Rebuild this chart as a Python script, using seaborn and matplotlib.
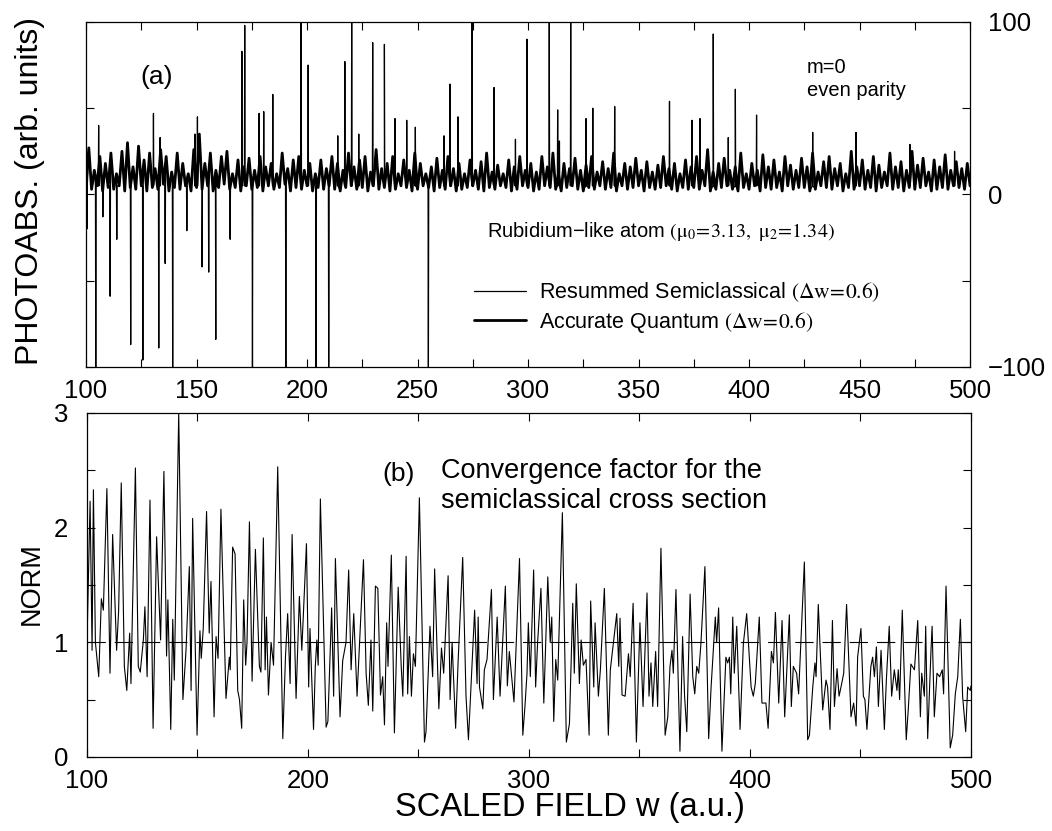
import numpy as np
import pandas as pd
import seaborn as sns
import matplotlib.pyplot as plt
from matplotlib.lines import Line2D
from matplotlib.ticker import MultipleLocator

# ---------------- panel (a): photoabsorption ----------------
# background band of the spectrum, read every 1.25 a.u. (troughs / bumps)
band_lo = [6, 3, 5, 2, 4, 3, 5, 2, 4, 3,
           5, 2, 4, 3, 6, 2, 4, 3, 5, 2,
           4, 3, 5, 2, 4, 6, 3, 4, 2, 5,
           3, 4, 2, 5, 3, 4, 6, 2, 4, 3,
           5, 2, 4, 3, 5, 3, 2, 4, 5, 3,
           4, 2, 5, 3, 4, 2, 3, 5, 4, 2,
           3, 5, 4, 2, 4, 3, 5, 2, 3, 4,
           5, 3, 2, 4, 3, 5, 4, 2, 3, 5,
           4, 2, 3, 5, 4, 3, 2, 4, 5, 3,
           2, 4, 3, 5, 3, 4, 2, 5, 3, 4,
           5, 2, 4, 3, 4, 5, 3, 2, 4, 3,
           4, 3, 5, 2, 3, 4, 5, 3, 2, 4,
           3, 5, 2, 4, 3, 4, 2, 5, 3, 4,
           4, 2, 3, 5, 4, 3, 5, 2, 4, 3,
           5, 3, 4, 2, 4, 5, 3, 4, 2, 4,
           3, 4, 5, 2, 3, 4, 3, 5, 4, 3,
           5]
band_hi = [27, 14, 22, 18, 24, 12, 25, 30, 16, 28,
           20, 24, 15, 26, 22, 13, 24, 18, 12, 26,
           35, 18, 24, 14, 22, 25, 12, 20, 16, 21,
           14, 22, 16, 18, 12, 24, 15, 20, 22, 14,
           18, 12, 20, 15, 22, 18, 14, 24, 16, 20,
           22, 13, 26, 15, 18, 22, 12, 20, 14, 24,
           18, 12, 16, 21, 14, 22, 15, 18, 12, 20,
           14, 19, 24, 13, 17, 12, 20, 16, 22, 14,
           18, 13, 22, 16, 24, 12, 18, 15, 21, 14,
           17, 22, 13, 19, 15, 24, 12, 18, 16, 21,
           14, 19, 13, 17, 22, 15, 18, 12, 20, 16,
           22, 14, 26, 13, 18, 21, 14, 16, 24, 12,
           18, 14, 23, 16, 20, 13, 22, 17, 14, 21,
           16, 24, 13, 19, 22, 15, 18, 12, 25, 16,
           20, 14, 22, 17, 13, 24, 16, 19, 14, 25,
           17, 21, 13, 20, 16, 23, 14, 19, 15, 18]

# sharp lines reaching up
up_w = [105.7, 130.5, 133.5, 149.3, 150.4, 170.5, 171.8, 178.3, 180.4, 184.5,
        197.3, 200.5, 213.9, 217.1, 220.2, 223.4, 229.7, 235.0, 239.8, 245.1,
        249.0, 262.0, 264.7, 268.3, 274.7, 284.6, 294.3, 299.5, 309.6, 313.4,
        314.2, 319.3, 326.2, 329.3, 339.2, 364.0, 374.2, 377.8, 383.8, 390.6,
        393.8, 403.4, 428.8, 448.4, 472.8, 493.0]
up_h = [40, 47, 33, 35, 45, 83, 98, 47, 48, 58,
        100, 75, 34, 77, 100, 35, 88, 87, 44, 43,
        39, 34, 64, 45, 100, 62, 32, 90, 100, 49,
        31, 100, 44, 50, 51, 54, 43, 44, 93, 33,
        61, 46, 36, 36, 29, 25]

# semiclassical lines going negative
down_w = [100.4, 104.4, 107.6, 110.9, 113.9, 120.2, 125.7, 132.9, 135.8, 139.2,
          145.6, 152.5, 155.5, 158.7, 165.2, 175.3, 190.4, 204.1, 209.8, 254.9]
down_h = [-20, -100, -13, -59, -26, -87, -96, -89, -40, -100,
          -21, -42, -45, -84, -26, -100, -100, -100, -100, -100]

# ---------------- panel (b): NORM ----------------
norm_w = [100.0, 101.4, 102.3, 102.9, 103.8, 105.3, 106.5, 107.4, 109.0, 110.4,
          111.6, 113.4, 114.3, 115.5, 116.9, 118.0, 119.3, 119.9, 121.9, 123.2,
          124.1, 125.5, 126.2, 127.2, 128.5, 129.9, 131.5, 132.0, 133.3, 134.8,
          136.0, 136.6, 137.9, 138.8, 139.5, 141.5, 143.4, 144.8, 146.3, 147.1,
          147.8, 149.8, 151.1, 151.7, 152.6, 154.1, 155.3, 156.1, 157.5, 158.4,
          159.3, 160.6, 162.9, 164.4, 164.8, 165.9, 167.0, 168.2, 169.0, 170.0,
          170.9, 171.8, 172.4, 173.5, 174.7, 176.2, 178.0, 178.7, 179.8, 180.6,
          181.2, 182.1, 183.3, 184.4, 186.3, 188.6, 189.8, 190.8, 191.9, 192.8,
          194.6, 196.1, 197.2, 199.3, 200.3, 200.9, 202.5, 203.3, 204.0, 204.6,
          205.6, 208.2, 209.0, 210.7, 211.6, 212.4, 213.8, 214.5, 215.7, 217.2,
          218.4, 219.5, 220.7, 222.2, 225.1, 226.3, 227.3, 228.5, 229.3, 230.5,
          231.6, 232.8, 233.8, 234.6, 235.6, 236.2, 237.7, 239.1, 240.8, 242.2,
          242.9, 244.4, 245.1, 245.9, 246.8, 247.7, 248.6, 250.4, 252.7, 253.4,
          255.2, 256.4, 257.3, 259.2, 260.4, 261.4, 263.4, 264.3, 265.2, 266.8,
          267.9, 270.0, 271.5, 272.6, 274.1, 275.4, 276.5, 277.0, 277.6, 279.1,
          279.8, 281.0, 283.0, 283.9, 285.6, 286.9, 289.3, 290.2, 291.1, 293.2,
          295.7, 297.2, 298.2, 299.1, 299.7, 300.6, 302.1, 303.0, 303.9, 305.4,
          306.7, 308.5, 309.6, 310.3, 311.2, 312.1, 313.0, 315.1, 316.9, 318.3,
          319.8, 320.5, 321.4, 322.8, 323.6, 324.6, 325.8, 327.2, 327.9, 329.3,
          329.9, 331.4, 332.3, 334.1, 335.9, 336.8, 339.7, 340.6, 341.2, 342.1,
          343.5, 345.0, 345.8, 347.1, 348.6, 350.2, 351.6, 353.4, 354.3, 355.2,
          356.0, 357.3, 358.2, 359.7, 361.6, 362.8, 363.8, 364.7, 365.3, 366.5,
          368.3, 369.5, 370.4, 371.4, 372.9, 374.1, 375.0, 375.9, 376.8, 377.8,
          379.6, 381.3, 382.4, 384.3, 384.9, 385.8, 387.3, 389.1, 389.9, 390.7,
          391.3, 392.2, 392.9, 394.0, 395.5, 397.0, 398.5, 400.5, 401.5, 402.4,
          404.2, 405.4, 407.2, 408.2, 409.7, 410.6, 411.5, 413.0, 414.5, 415.7,
          417.8, 418.7, 419.6, 421.1, 422.0, 424.6, 426.1, 426.9, 428.4, 429.4,
          429.9, 430.9, 432.9, 434.4, 435.1, 436.2, 437.3, 438.2, 439.4, 440.3,
          441.5, 442.4, 443.7, 445.7, 446.9, 448.0, 448.7, 450.2, 451.3, 452.0,
          452.9, 454.7, 455.5, 456.3, 457.2, 458.1, 459.3, 460.8, 461.7, 463.0,
          464.1, 465.3, 466.5, 467.1, 467.7, 468.9, 470.7, 471.6, 472.8, 474.4,
          475.9, 477.1, 477.7, 478.9, 479.5, 480.4, 481.9, 482.4, 483.4, 484.6,
          485.8, 487.0, 487.6, 488.7, 490.6, 491.7, 492.9, 494.0, 495.2, 496.2,
          497.6, 498.5, 499.7, 500.0]
norm_v = [1.00, 2.23, 0.93, 2.33, 1.00, 0.70, 1.38, 1.28, 2.34, 0.73,
          1.94, 0.93, 1.27, 2.39, 0.79, 0.58, 1.08, 0.64, 2.52, 0.79,
          0.74, 1.02, 1.31, 0.70, 2.24, 0.25, 1.92, 1.66, 1.02, 2.49,
          0.88, 1.37, 0.24, 1.20, 0.67, 3.00, 0.50, 0.93, 1.66, 0.58,
          2.08, 0.19, 1.10, 0.86, 1.12, 2.14, 1.08, 1.53, 0.35, 1.05,
          0.86, 2.16, 0.51, 0.87, 0.76, 1.83, 1.77, 0.58, 0.50, 0.25,
          1.37, 0.80, 1.00, 2.05, 0.66, 1.81, 0.79, 0.74, 1.91, 0.76,
          1.22, 0.54, 1.00, 0.80, 2.53, 0.16, 0.87, 1.25, 0.64, 1.94,
          0.51, 1.40, 0.93, 1.86, 0.61, 1.12, 0.24, 0.79, 1.02, 0.80,
          2.25, 0.26, 0.31, 1.30, 0.53, 1.73, 0.82, 0.35, 0.84, 1.00,
          1.63, 0.76, 1.25, 0.53, 1.72, 0.73, 0.45, 1.02, 0.40, 1.49,
          1.47, 0.54, 0.70, 0.28, 1.17, 0.79, 1.76, 0.21, 1.48, 0.78,
          0.53, 1.75, 0.55, 1.05, 0.53, 0.90, 0.79, 2.26, 0.13, 0.22,
          1.14, 0.70, 1.64, 0.42, 0.95, 0.73, 1.58, 0.50, 1.00, 0.25,
          0.82, 1.74, 0.53, 0.15, 0.76, 1.28, 0.64, 1.22, 0.61, 0.42,
          0.76, 0.85, 1.46, 0.50, 1.22, 0.53, 1.49, 0.62, 0.92, 0.48,
          1.73, 0.19, 0.45, 0.73, 1.17, 0.70, 1.63, 0.61, 1.00, 1.47,
          0.47, 1.57, 1.00, 1.22, 0.31, 0.85, 0.67, 2.13, 0.13, 0.29,
          1.34, 0.73, 1.51, 0.64, 1.02, 0.80, 0.85, 0.19, 1.36, 0.61,
          1.17, 0.53, 0.76, 1.47, 0.19, 0.76, 1.25, 0.79, 1.21, 0.54,
          0.53, 0.90, 0.70, 1.34, 0.13, 1.17, 0.44, 1.43, 0.53, 0.82,
          0.44, 0.92, 0.44, 1.82, 0.19, 0.35, 0.79, 0.93, 0.73, 1.46,
          0.05, 1.05, 0.53, 0.22, 1.42, 0.70, 0.55, 0.79, 0.73, 0.99,
          1.66, 0.16, 0.61, 1.22, 1.00, 1.30, 0.05, 0.87, 0.82, 0.87,
          0.55, 1.22, 0.73, 1.14, 0.24, 0.99, 1.25, 0.61, 0.53, 0.64,
          1.22, 0.47, 0.47, 0.25, 0.92, 0.82, 1.26, 0.47, 1.19, 0.35,
          1.24, 0.44, 0.79, 0.73, 0.55, 1.70, 0.15, 0.19, 0.61, 0.82,
          0.70, 1.33, 0.41, 0.67, 0.61, 0.24, 1.19, 0.44, 0.77, 0.53,
          0.64, 0.73, 1.33, 0.35, 0.47, 0.27, 0.87, 1.12, 0.53, 0.50,
          0.24, 0.79, 0.87, 0.70, 0.96, 0.44, 0.93, 0.24, 0.67, 1.14,
          0.53, 0.76, 0.58, 0.76, 0.50, 1.28, 0.15, 0.41, 0.81, 0.76,
          1.19, 0.35, 0.73, 0.53, 1.14, 0.16, 0.93, 1.14, 0.35, 0.73,
          0.70, 0.76, 0.55, 1.49, 0.08, 0.19, 0.55, 0.70, 1.20, 0.53,
          0.22, 0.61, 0.58, 0.62]
norm_ref = 1.0

# ---------------- build the curves ----------------
band_w = np.linspace(100, 500, len(band_lo) + len(band_hi))
band_y = np.empty(len(band_w))
band_y[0::2] = band_lo
band_y[1::2] = band_hi
quantum = pd.DataFrame({'w': band_w, 'y': band_y})


def add_lines(w, y, lw_, lh_, base=5.0, half=0.15):
    lw_ = np.asarray(lw_, float)
    lh_ = np.asarray(lh_, float)
    ew = np.concatenate([lw_ - half, lw_, lw_ + half])
    ey = np.concatenate([np.full(len(lw_), base), lh_, np.full(len(lw_), base)])
    aw = np.concatenate([w, ew])
    ay = np.concatenate([y, ey])
    order = np.argsort(aw, kind='stable')
    return pd.DataFrame({'w': aw[order], 'y': ay[order]})


semi = add_lines(band_w, band_y, up_w + down_w, up_h + down_h)
norm = pd.DataFrame({'w': norm_w, 'v': norm_v})

# ---------------- style ----------------
sns.set_style('ticks', {'axes.edgecolor': 'black', 'xtick.color': 'black',
                        'ytick.color': 'black', 'text.color': 'black',
                        'axes.labelcolor': 'black'})
plt.rcParams['font.family'] = ['Liberation Sans', 'DejaVu Sans']
plt.rcParams['mathtext.fontset'] = 'stix'
plt.rcParams['axes.linewidth'] = 0.9

fig = plt.figure(figsize=(10.52, 8.31), dpi=100)
ax1 = fig.add_axes([0.0818, 0.5584, 0.8403, 0.4152])
ax2 = fig.add_axes([0.0827, 0.0891, 0.8403, 0.4140])

# panel (a)
sns.lineplot(data=semi, x='w', y='y', ax=ax1, color='black', linewidth=0.9,
             estimator=None, sort=False)
sns.lineplot(data=quantum, x='w', y='y', ax=ax1, color='black', linewidth=2.0,
             estimator=None, sort=False)
ax1.set_xlim(100, 500)
ax1.set_ylim(-100, 100)
ax1.xaxis.set_major_locator(MultipleLocator(50))
ax1.xaxis.set_minor_locator(MultipleLocator(25))
ax1.yaxis.set_major_locator(MultipleLocator(100))
ax1.yaxis.set_minor_locator(MultipleLocator(50))
ax1.tick_params(which='both', direction='in', top=True, bottom=True, left=True,
                right=True, labelleft=False, labelright=True, length=6, width=0.8)
ax1.tick_params(axis='x', labelsize=18.5, pad=9)
ax1.tick_params(axis='y', labelsize=18.5, pad=13)
ax1.set_xlabel('')
ax1.set_ylabel('PHOTOABS. (arb. units)', fontsize=23)
ax1.yaxis.label.set_va('center')
ax1.yaxis.label.set_ha('center')
ax1.yaxis.set_label_coords(-0.063, 0.51)

ax1.text(0.080, 0.841, '(a)', transform=ax1.transAxes, fontsize=19,
         ha='center', va='center')
ax1.text(0.815, 0.853, 'm=0', transform=ax1.transAxes, fontsize=14.5,
         va='baseline')
ax1.text(0.815, 0.786, 'even parity', transform=ax1.transAxes, fontsize=14.5,
         va='baseline')
ax1.text(0.453, 0.378,
         'Rubidium\u2212like atom $(\\mathrm{\\mu}_0\\!=\\!3.13,\\ \\mathrm{\\mu}_2\\!=\\!1.34)$',
         transform=ax1.transAxes, fontsize=14.5, va='baseline')

handles = [Line2D([], [], color='black', linewidth=0.9),
           Line2D([], [], color='black', linewidth=2.0)]
labels = ['Resummed Semiclassical $(\\Delta\\mathrm{w}\\!=\\!0.6)$',
          'Accurate Quantum $(\\Delta\\mathrm{w}\\!=\\!0.6)$']
ax1.legend(handles, labels, loc='center left', bbox_to_anchor=(0.439, 0.172),
           frameon=False, fontsize=15.5, handlelength=2.4, handletextpad=0.6,
           borderpad=0, borderaxespad=0, labelspacing=0.25)

# panel (b)
sns.lineplot(data=norm, x='w', y='v', ax=ax2, color='black', linewidth=0.8,
             estimator=None, sort=False)
ax2.axhline(norm_ref, color='black', linewidth=0.8, dashes=(16.5, 8))
ax2.set_xlim(100, 500)
ax2.set_ylim(0, 3)
ax2.xaxis.set_major_locator(MultipleLocator(100))
ax2.xaxis.set_minor_locator(MultipleLocator(50))
ax2.yaxis.set_major_locator(MultipleLocator(1))
ax2.yaxis.set_minor_locator(MultipleLocator(0.5))
ax2.tick_params(which='both', direction='in', top=True, bottom=True, left=True,
                right=True, length=6, width=0.8)
ax2.tick_params(axis='x', labelsize=18.5, pad=9)
ax2.tick_params(axis='y', labelsize=18.5, pad=13.5)
ax2.set_xlabel('SCALED FIELD w (a.u.)', fontsize=23.5)
ax2.set_ylabel('NORM', fontsize=19.5)
ax2.xaxis.label.set_va('center')
ax2.xaxis.label.set_ha('center')
ax2.yaxis.label.set_va('center')
ax2.yaxis.label.set_ha('center')
ax2.xaxis.set_label_coords(0.546, -0.148)
ax2.yaxis.set_label_coords(-0.062, 0.505)

ax2.text(0.353, 0.823, '(b)', transform=ax2.transAxes, fontsize=19,
         ha='center', va='center')
ax2.text(0.400, 0.811, 'Convergence factor for the', transform=ax2.transAxes,
         fontsize=19.5, va='baseline')
ax2.text(0.400, 0.724, 'semiclassical cross section', transform=ax2.transAxes,
         fontsize=19.5, va='baseline')

fig.savefig('out.png', dpi=100)
